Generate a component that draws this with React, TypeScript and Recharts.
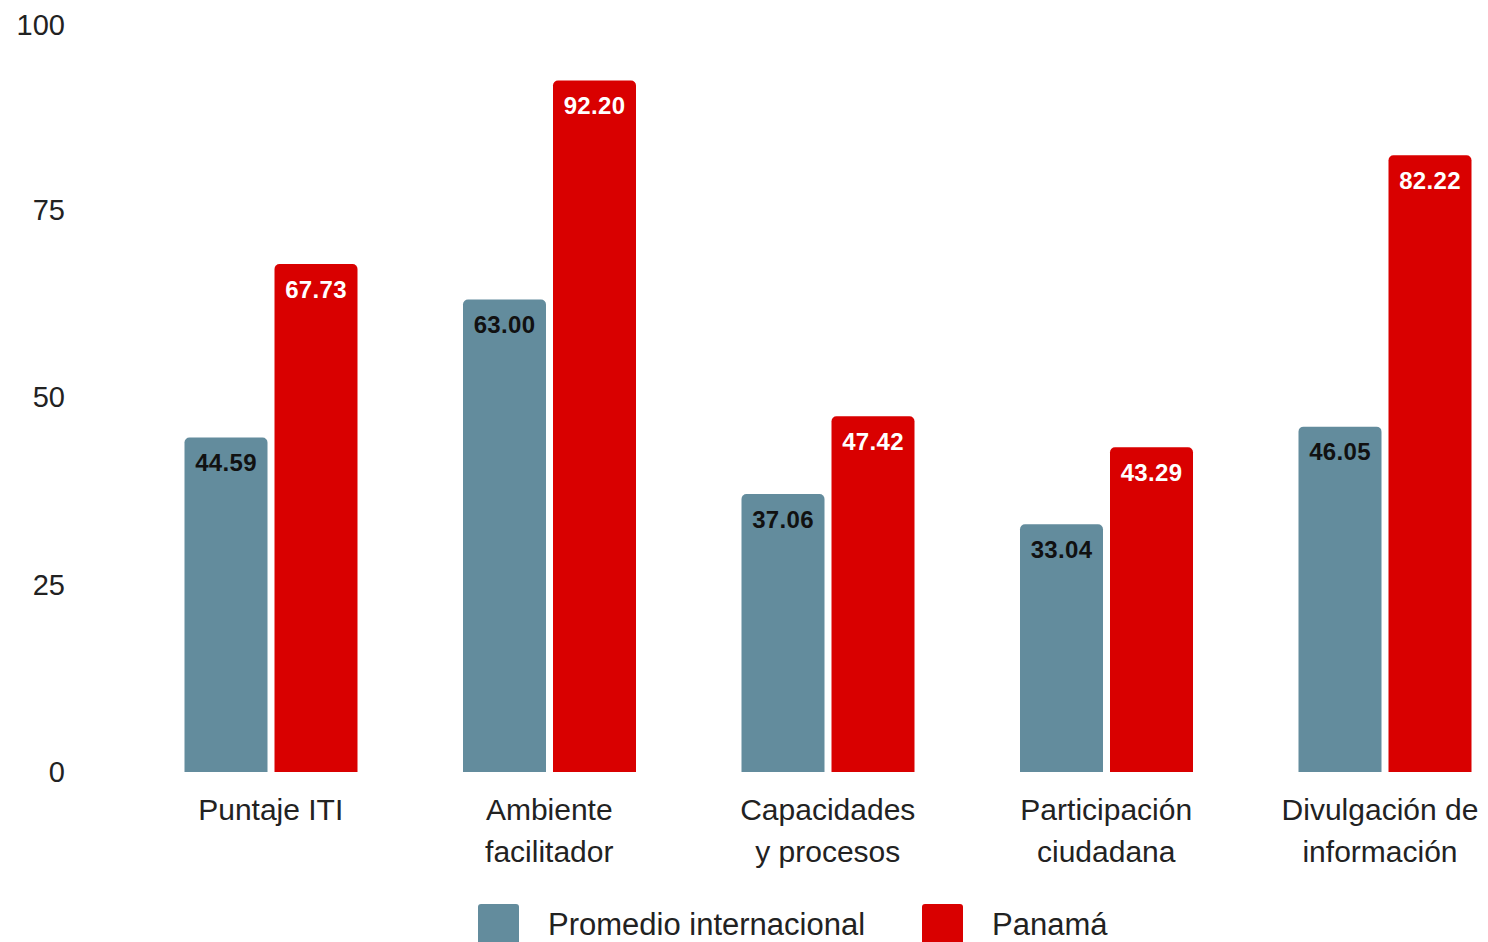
import { BarChart, Bar, XAxis, YAxis, Legend, LabelList } from 'recharts';

const categories = ['Puntaje ITI', 'Ambiente facilitador', 'Capacidades y procesos', 'Participación ciudadana', 'Divulgación de información'];
const categoryLines = [['Puntaje ITI'], ['Ambiente', 'facilitador'], ['Capacidades', 'y procesos'], ['Participación', 'ciudadana'], ['Divulgación de', 'información']];
const promedio = [44.59, 63.0, 37.06, 33.04, 46.05];
const panama = [67.73, 92.2, 47.42, 43.29, 82.22];
const yTicks = [0, 25, 50, 75, 100];

const BLUE = '#638C9D';
const RED = '#D90000';
const FONT = '"Liberation Sans", Arial, sans-serif';

const data = categories.map((c, i) => ({ name: c, promedio: promedio[i], panama: panama[i] }));

const CategoryTick = (props: any) => {
  const { x, y, index } = props;
  const lines = categoryLines[index] || [];
  // keep the last label inside the visible page area
  const cx = Math.min(x, 1372);
  return (
    <text x={cx} y={y} textAnchor="middle" fill="#222" fontSize={30} fontFamily={FONT}>
      {lines.map((l, i) => (
        <tspan key={i} x={cx} y={y + 48 + i * 42}>{l}</tspan>
      ))}
    </text>
  );
};

const valueLabel = (color: string) => (props: any) => {
  const { x, y, width, value } = props;
  return (
    <text x={x + width / 2} y={y + 25} textAnchor="middle" dominantBaseline="central" fill={color} fontSize={24} fontWeight="bold" fontFamily={FONT} letterSpacing={0.3}>
      {Number(value).toFixed(2)}
    </text>
  );
};

const LegendContent = () => (
  <div style={{ position: 'relative', height: 50, fontFamily: FONT, fontSize: 31, color: '#222' }}>
    <div style={{ position: 'absolute', left: 470, top: 4, width: 41, height: 41, background: BLUE, borderRadius: 3 }} />
    <div style={{ position: 'absolute', left: 540, top: 0, height: 50, lineHeight: '50px' }}>Promedio internacional</div>
    <div style={{ position: 'absolute', left: 914, top: 4, width: 41, height: 41, background: RED, borderRadius: 3 }} />
    <div style={{ position: 'absolute', left: 984, top: 0, height: 50, lineHeight: '50px' }}>Panamá</div>
  </div>
);

export default function App() {
  return (
    <div style={{ position: 'relative', width: 1472, height: 934, overflow: 'hidden', background: '#fff' }}>
      <BarChart width={1516} height={942} data={data} margin={{ top: 14, right: 0, bottom: 0, left: 0 }} barGap={7}>
        <YAxis
          domain={[0, 100]}
          ticks={yTicks}
          width={92}
          axisLine={false}
          tickLine={false}
          tickSize={0}
          tickMargin={35}
          tick={{ fill: '#222', fontSize: 29, fontFamily: FONT }}
        />
        <XAxis
          dataKey="name"
          height={128}
          axisLine={false}
          tickLine={false}
          tickSize={0}
          tickMargin={0}
          interval={0}
          padding={{ left: 31.5, right: 0 }}
          tick={<CategoryTick />}
        />
        <Legend verticalAlign="bottom" wrapperStyle={{ left: 0, width: 1516 }} content={<LegendContent />} />
        <Bar dataKey="promedio" name="Promedio internacional" fill={BLUE} barSize={83} radius={[5, 5, 0, 0]} isAnimationActive={false}>
          <LabelList dataKey="promedio" content={valueLabel('#111')} />
        </Bar>
        <Bar dataKey="panama" name="Panamá" fill={RED} barSize={83} radius={[5, 5, 0, 0]} isAnimationActive={false}>
          <LabelList dataKey="panama" content={valueLabel('#fff')} />
        </Bar>
      </BarChart>
    </div>
  );
}
